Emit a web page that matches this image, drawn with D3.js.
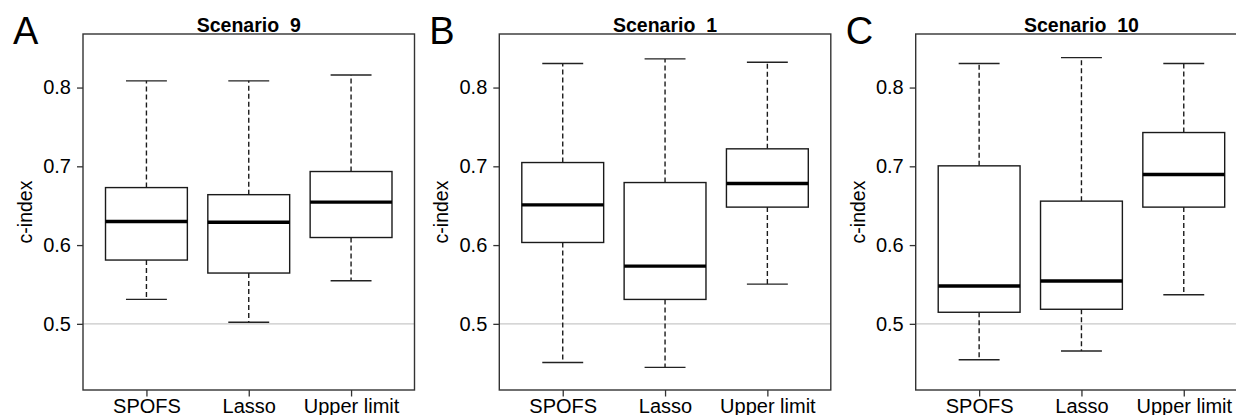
<!DOCTYPE html>
<html lang="en">
<head>
  <meta charset="UTF-8">
  <title>c-index boxplots</title>
  <script src="https://d3js.org/d3.v7.min.js"></script>
  <style>
    body {
      margin: 0;
      background-color: #fff;
      font-family: "Liberation Sans", Arial, sans-serif;
    }
    svg text {
      fill: #000;
    }
  </style>
</head>
<body>
  <div id="chart"></div>

  <script>
    // methods on the x axis
    const methods = ["SPOFS", "Lasso", "Upper limit"];

    // five-number summaries per method: [lower whisker, Q1, median, Q3, upper whisker]
    const scenario9 = [
      [0.531, 0.581, 0.630, 0.673, 0.8085],
      [0.502, 0.5645, 0.629, 0.664, 0.8085],
      [0.5547, 0.6096, 0.6545, 0.6934, 0.816]
    ];
    const scenario1 = [
      [0.451, 0.6033, 0.6511, 0.7048, 0.8305],
      [0.4447, 0.531, 0.5733, 0.6794, 0.8364],
      [0.5504, 0.6482, 0.6782, 0.7222, 0.8322]
    ];
    const scenario10 = [
      [0.4544, 0.5147, 0.548, 0.7006, 0.8305],
      [0.4655, 0.5185, 0.5543, 0.6558, 0.838],
      [0.5369, 0.6482, 0.6896, 0.7429, 0.8305]
    ];

    const panelTitles = ["Scenario  9", "Scenario  1", "Scenario  10"];
    const panelLetters = ["A", "B", "C"];
    const yTicks = [0.5, 0.6, 0.7, 0.8];
    const refLine = 0.5;

    const panels = [scenario9, scenario1, scenario10];

    const width = 1236;
    const height = 415;
    const plotTop = 34;
    const plotBottom = 390;
    const plotWidth = 331.5;
    const panelLefts = [83, 499.3, 915.7];

    const svg = d3.select("#chart")
      .append("svg")
      .attr("width", width)
      .attr("height", height)
      .style("display", "block");

    svg.append("rect")
      .attr("width", width)
      .attr("height", height)
      .attr("fill", "#fff");

    // same y range in every panel
    const y = d3.scaleLinear()
      .domain([0.416, 0.868])
      .range([plotBottom, plotTop]);

    panels.forEach((stats, p) => {
      const left = panelLefts[p];
      const x = d3.scaleLinear()
        .domain([0.38, 3.62])
        .range([left, left + plotWidth]);
      const unit = x(1) - x(0);
      const boxW = unit * 0.8;
      const capW = unit * 0.4;

      const g = svg.append("g");

      // clip to plot region
      const clipId = "clip" + p;
      g.append("clipPath")
        .attr("id", clipId)
        .append("rect")
        .attr("x", left)
        .attr("y", plotTop)
        .attr("width", plotWidth)
        .attr("height", plotBottom - plotTop);

      const inner = g.append("g").attr("clip-path", `url(#${clipId})`);

      // reference line at 0.5
      inner.append("line")
        .attr("x1", left)
        .attr("x2", left + plotWidth)
        .attr("y1", y(refLine))
        .attr("y2", y(refLine))
        .attr("stroke", "#c8c8c8")
        .attr("stroke-width", 1.3);

      stats.forEach((s, i) => {
        const cx = x(i + 1);
        const [lo, q1, med, q3, hi] = s;

        // whiskers
        [[q3, hi], [q1, lo]].forEach(([a, b]) => {
          inner.append("line")
            .attr("x1", cx).attr("x2", cx)
            .attr("y1", y(a)).attr("y2", y(b))
            .attr("stroke", "#1a1a1a")
            .attr("stroke-width", 1.4)
            .attr("stroke-dasharray", "5,3");
          inner.append("line")
            .attr("x1", cx - capW / 2).attr("x2", cx + capW / 2)
            .attr("y1", y(b)).attr("y2", y(b))
            .attr("stroke", "#222")
            .attr("stroke-width", 1.4);
        });

        // box
        inner.append("rect")
          .attr("x", cx - boxW / 2)
          .attr("y", y(q3))
          .attr("width", boxW)
          .attr("height", y(q1) - y(q3))
          .attr("fill", "#fff")
          .attr("stroke", "#1a1a1a")
          .attr("stroke-width", 1.4);

        // median
        inner.append("line")
          .attr("x1", cx - boxW / 2).attr("x2", cx + boxW / 2)
          .attr("y1", y(med)).attr("y2", y(med))
          .attr("stroke", "#000")
          .attr("stroke-width", 3.4);
      });

      // frame
      g.append("rect")
        .attr("x", left)
        .attr("y", plotTop)
        .attr("width", plotWidth)
        .attr("height", plotBottom - plotTop)
        .attr("fill", "none")
        .attr("stroke", "#333")
        .attr("stroke-width", 1.4);

      // y axis
      const yAxis = g.append("g")
        .attr("transform", `translate(${left},0)`)
        .call(d3.axisLeft(y).tickValues(yTicks).tickFormat(d3.format(".1f"))
          .tickSize(6).tickPadding(6));
      yAxis.select(".domain").remove();
      yAxis.selectAll(".tick line").attr("stroke", "#333").attr("stroke-width", 1.3);
      yAxis.selectAll(".tick text")
        .attr("font-family", "Liberation Sans, Arial, sans-serif")
        .attr("font-size", 20)
        .attr("fill", "#111");

      // x axis
      const xAxis = g.append("g")
        .attr("transform", `translate(0,${plotBottom})`)
        .call(d3.axisBottom(x).tickValues([1, 2, 3]).tickFormat(d => methods[d - 1])
          .tickSize(6.5).tickPadding(2));
      xAxis.select(".domain").remove();
      xAxis.selectAll(".tick line").attr("stroke", "#333").attr("stroke-width", 1.3);
      xAxis.selectAll(".tick text")
        .attr("font-family", "Liberation Sans, Arial, sans-serif")
        .attr("font-size", 20)
        .attr("fill", "#111");

      // y axis title
      g.append("text")
        .attr("transform", `translate(${left - 51},${(plotTop + plotBottom) / 2}) rotate(-90)`)
        .attr("text-anchor", "middle")
        .attr("font-size", 19.5)
        .text("c-index");

      // panel title
      g.append("text")
        .attr("x", left + plotWidth / 2)
        .attr("y", 32)
        .attr("text-anchor", "middle")
        .attr("font-size", 19.5)
        .attr("font-weight", "bold")
        .style("white-space", "pre")
        .text(panelTitles[p]);

      // panel letter
      g.append("text")
        .attr("x", left - 70)
        .attr("y", 44)
        .attr("font-size", 38)
        .text(panelLetters[p]);
    });
  </script>
</body>
</html>
